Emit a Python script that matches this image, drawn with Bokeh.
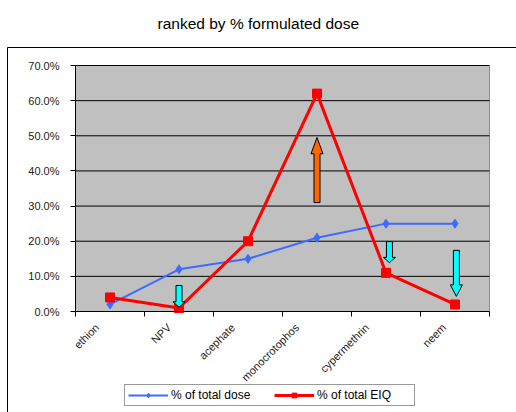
import numpy as np
from bokeh.plotting import figure
from bokeh.models import (ColumnDataSource, FixedTicker, NumeralTickFormatter, Legend,
                          LegendItem, Range1d, LinearAxis)
from bokeh.embed import file_html
from bokeh.resources import INLINE

# ---------------- data ----------------
title_text = "ranked by % formulated dose"
categories = ["ethion", "NPV", "acephate", "monocrotophos", "cypermethrin", "neem"]
pct_total_dose = [0.02, 0.12, 0.15, 0.21, 0.25, 0.25]
pct_total_eiq = [0.04, 0.01, 0.20, 0.62, 0.11, 0.02]
y_ticks = [0.0, 0.1, 0.2, 0.3, 0.4, 0.5, 0.6, 0.7]
series_names = ["% of total dose", "% of total EIQ"]

# annotation arrows: category position, start value, end value
arrow_pos = [2.0, 4.0, 5.05, 6.02]
arrow_from = [0.074, 0.31, 0.199, 0.174]
arrow_to = [0.012, 0.495, 0.139, 0.043]
arrow_colors = ["#00ffff", "#ff6600", "#00ffff", "#00ffff"]

# ---------------- layout (pixels) ----------------
W, H = 516, 412
FL, FT = 7, 47                 # chart-area (frame) top-left
PL, PR, PT, PB = 75, 489, 65, 311   # plot-area box
n = len(categories)
ymax = y_ticks[-1]
ppx = (PR - PL) / n            # px per category
ppy = (PB - PT) / ymax         # px per unit value
x0 = 0.5 - (PL - FL) / ppx
x1 = n + 0.5 + (W - PR) / ppx
y1 = ymax + (PT - FT) / ppy
y0 = 0 - (H - PB) / ppy

xpos = list(range(1, n + 1))

p = figure(width=W, height=H, output_backend="svg", toolbar_location=None,
           x_range=Range1d(x0, x1), y_range=Range1d(y0, y1),
           min_border_left=FL, min_border_right=0, min_border_top=FT, min_border_bottom=0)

xax = p.below[0]
yax = p.left[0]

p.title.text = title_text
p.title.align = "left"
p.title.offset = 150
p.title.text_font = "Liberation Sans"
p.title.text_font_size = "15.5px"
p.title.text_font_style = "normal"
p.title.text_color = "black"
p.title.vertical_align = "top"
p.title.standoff = 28

p.background_fill_color = "white"
p.border_fill_color = "white"
p.outline_line_color = None
p.grid.grid_line_color = None

# chart-area border lines (left and top) via bare axes
for side in ("left", "above"):
    ax = LinearAxis(ticker=FixedTicker(ticks=[]), axis_line_color="black", axis_line_width=1,
                    major_tick_line_color=None, minor_tick_line_color=None,
                    major_label_text_font_size="0px", major_label_standoff=0)
    p.add_layout(ax, side)

# plot area
p.quad(left=[0.5], right=[n + 0.5], bottom=[y_ticks[0]], top=[ymax],
       fill_color="#c0c0c0", line_color="#8c8c8c", line_width=1)
p.segment(x0=[0.5] * (len(y_ticks) - 1), x1=[n + 0.5] * (len(y_ticks) - 1),
          y0=y_ticks[1:], y1=y_ticks[1:], line_color="black", line_width=1)

# y axis (the default left axis, moved to the plot-area edge)
yax.fixed_location = 0.5
yax.bounds = (y_ticks[0], ymax)
yax.ticker = FixedTicker(ticks=y_ticks)
yax.formatter = NumeralTickFormatter(format="0.0%")
yax.major_label_text_font = "Liberation Sans"
yax.major_label_text_font_size = "11px"
yax.major_label_text_color = "#222222"
yax.axis_line_color = "black"
yax.major_tick_line_color = "black"
yax.major_tick_out = 5
yax.major_tick_in = 0
yax.minor_tick_line_color = None
yax.major_label_standoff = 11

# x axis (default below axis, moved to y=0); rotated labels end a little left of
# the category centre, longer labels slightly more (as in the original)
label_ticks = [x - (7 + len(c)) / ppx for x, c in zip(xpos, categories)]
xax.fixed_location = 0
xax.bounds = (0.5, n + 0.5)
xax.ticker = FixedTicker(ticks=label_ticks,
                         minor_ticks=[i + 0.5 for i in range(n + 1)])
xax.major_label_overrides = {t: c for t, c in zip(label_ticks, categories)}
xax.major_label_orientation = np.pi / 4
xax.major_label_text_font = "Liberation Sans"
xax.major_label_text_font_size = "11px"
xax.major_label_text_color = "#222222"
xax.axis_line_color = "black"
xax.major_tick_out = 0
xax.major_tick_in = 0
xax.minor_tick_out = 5
xax.minor_tick_in = 0
xax.minor_tick_line_color = "black"
xax.major_label_standoff = 9

# series
src = ColumnDataSource(dict(x=xpos, dose=pct_total_dose, eiq=pct_total_eiq))
l1 = p.line("x", "dose", source=src, line_color="#3d6bff", line_width=2)
m1 = p.scatter("x", "dose", source=src, marker="diamond", size=9,
               fill_color="#3d6bff", line_color="#3d6bff")
l2 = p.line("x", "eiq", source=src, line_color="#ff0000", line_width=3)
m2 = p.scatter("x", "eiq", source=src, marker="square", size=9,
               fill_color="#ff0000", line_color="#ff0000")

# arrows (built from values; shaft/head sizes in pixels converted to data units)
xs, ys = [], []
for xc, ya, yb_ in zip(arrow_pos, arrow_from, arrow_to):
    s = 1 if yb_ > ya else -1
    hl = 0.25 * abs(yb_ - ya)
    hw, hh = 3 / ppx, 6 / ppx
    yb = yb_ - s * hl
    xs.append([xc - hw, xc - hw, xc - hh, xc, xc + hh, xc + hw, xc + hw])
    ys.append([ya, yb, yb, yb_, yb, yb, ya])
p.patches(xs, ys, fill_color=arrow_colors, line_color="black", line_width=1)

legend = Legend(items=[LegendItem(label=series_names[0], renderers=[l1, m1]),
                       LegendItem(label=series_names[1], renderers=[l2, m2])],
                orientation="horizontal", location=(124 - FL, H - 406))
legend.label_text_font = "Liberation Sans"
legend.label_text_font_size = "12px"
legend.label_text_color = "black"
legend.glyph_width = 40
legend.glyph_height = 12
legend.label_height = 12
legend.label_width = 94
legend.label_standoff = 3
legend.spacing = 9
legend.padding = 3
legend.margin = 0
legend.border_line_color = "#333333"
legend.border_line_width = 1
legend.background_fill_color = "white"
legend.background_fill_alpha = 1
p.add_layout(legend, "center")

open("out.html", "w").write(file_html(p, INLINE))
